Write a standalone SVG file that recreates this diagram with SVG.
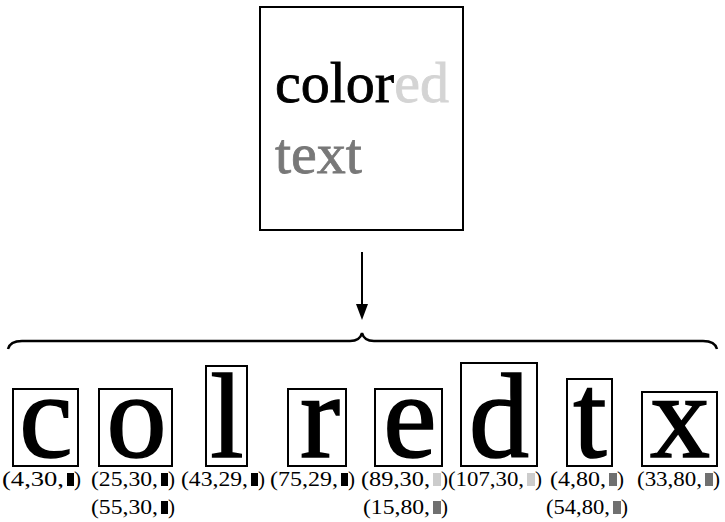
<svg xmlns="http://www.w3.org/2000/svg" width="725" height="522" viewBox="0 0 725 522">
<style>
.box{fill:none;stroke:#000;stroke-width:2}
.big{font-family:"Liberation Serif","Times New Roman",serif;font-size:58px;stroke-width:0.8}
.glyph{font-family:"Liberation Serif","Times New Roman",serif;font-size:120px;text-anchor:middle;fill:#000;stroke:#000;stroke-width:1.6}
.lab{font-family:"Liberation Serif","Times New Roman",serif;font-size:21px;fill:#000}
.k{fill:#000}.l{fill:#cccccc}.g{fill:#707070}
</style>
<rect width="725" height="522" fill="#fff"/>
<g id="source">
<rect class="box" x="260" y="7" width="203" height="223"/>
<text class="big" x="275" y="102"><tspan fill="#000" stroke="#000">color</tspan><tspan fill="#d4d4d4" stroke="#d4d4d4">ed</tspan></text>
<text class="big" x="275" y="173" fill="#787878" stroke="#787878">text</text>
</g>
<g id="connectors">
<line x1="362" y1="252" x2="362" y2="305" stroke="#000" stroke-width="2"/>
<path d="M356,304 L368,304 L362,320 Z" fill="#000"/>
<path d="M8,349 Q10,341 22,341 L350,341 Q360,341 362,333 Q364,341 374,341 L703,341 Q715,341 717,349" fill="none" stroke="#000" stroke-width="2.5"/>
</g>
<g id="n-c"><rect class="box" x="13" y="389" width="65" height="77"/><text class="glyph" x="46" y="457">c</text>
<text class="lab" x="2" y="486" textLength="62" lengthAdjust="spacingAndGlyphs">(4,30,</text><rect class="k" x="67" y="473" width="7" height="13"/><text class="lab" x="74" y="486">)</text></g>
<g id="n-o"><rect class="box" x="99" y="389" width="73" height="77"/><text class="glyph" x="136.5" y="457">o</text>
<text class="lab" x="91" y="486" textLength="67" lengthAdjust="spacingAndGlyphs">(25,30,</text><rect class="k" x="161" y="473" width="7" height="13"/><text class="lab" x="168" y="486">)</text>
<text class="lab" x="91" y="514" textLength="67" lengthAdjust="spacingAndGlyphs">(55,30,</text><rect class="k" x="161" y="501" width="7" height="13"/><text class="lab" x="168" y="514">)</text></g>
<g id="n-l"><rect class="box" x="206" y="366" width="41" height="100"/><text class="glyph" x="227" y="457">l</text>
<text class="lab" x="181" y="486" textLength="67" lengthAdjust="spacingAndGlyphs">(43,29,</text><rect class="k" x="251" y="473" width="7" height="13"/><text class="lab" x="258" y="486">)</text></g>
<g id="n-r"><rect class="box" x="288" y="389" width="58" height="77"/><text class="glyph" x="320" y="457">r</text>
<text class="lab" x="270" y="486" textLength="68" lengthAdjust="spacingAndGlyphs">(75,29,</text><rect class="k" x="341" y="473" width="7" height="13"/><text class="lab" x="348" y="486">)</text></g>
<g id="n-e"><rect class="box" x="375" y="389" width="67" height="77"/><text class="glyph" x="410" y="457">e</text>
<text class="lab" x="361" y="486" textLength="69" lengthAdjust="spacingAndGlyphs">(89,30,</text><rect class="l" x="433" y="473" width="8" height="13"/><text class="lab" x="441" y="486">)</text>
<text class="lab" x="363" y="514" textLength="67" lengthAdjust="spacingAndGlyphs">(15,80,</text><rect class="g" x="433" y="501" width="8" height="13"/><text class="lab" x="441" y="514">)</text></g>
<g id="n-d"><rect class="box" x="461" y="363" width="76" height="103"/><text class="glyph" x="499" y="457">d</text>
<text class="lab" x="448" y="486" textLength="76" lengthAdjust="spacingAndGlyphs">(107,30,</text><rect class="l" x="527" y="473" width="8" height="13"/><text class="lab" x="535" y="486">)</text></g>
<g id="n-t"><rect class="box" x="567" y="379" width="45" height="87"/><text class="glyph" x="590" y="457">t</text>
<text class="lab" x="550" y="486" textLength="56" lengthAdjust="spacingAndGlyphs">(4,80,</text><rect class="g" x="609" y="473" width="8" height="13"/><text class="lab" x="617" y="486">)</text>
<text class="lab" x="546" y="514" textLength="64" lengthAdjust="spacingAndGlyphs">(54,80,</text><rect class="g" x="613" y="501" width="8" height="13"/><text class="lab" x="621" y="514">)</text></g>
<g id="n-x"><rect class="box" x="642" y="392" width="75" height="74"/><text class="glyph" x="680" y="457">x</text>
<text class="lab" x="637" y="486" textLength="65" lengthAdjust="spacingAndGlyphs">(33,80,</text><rect class="g" x="705" y="473" width="8" height="13"/><text class="lab" x="713" y="486">)</text></g>
</svg>
